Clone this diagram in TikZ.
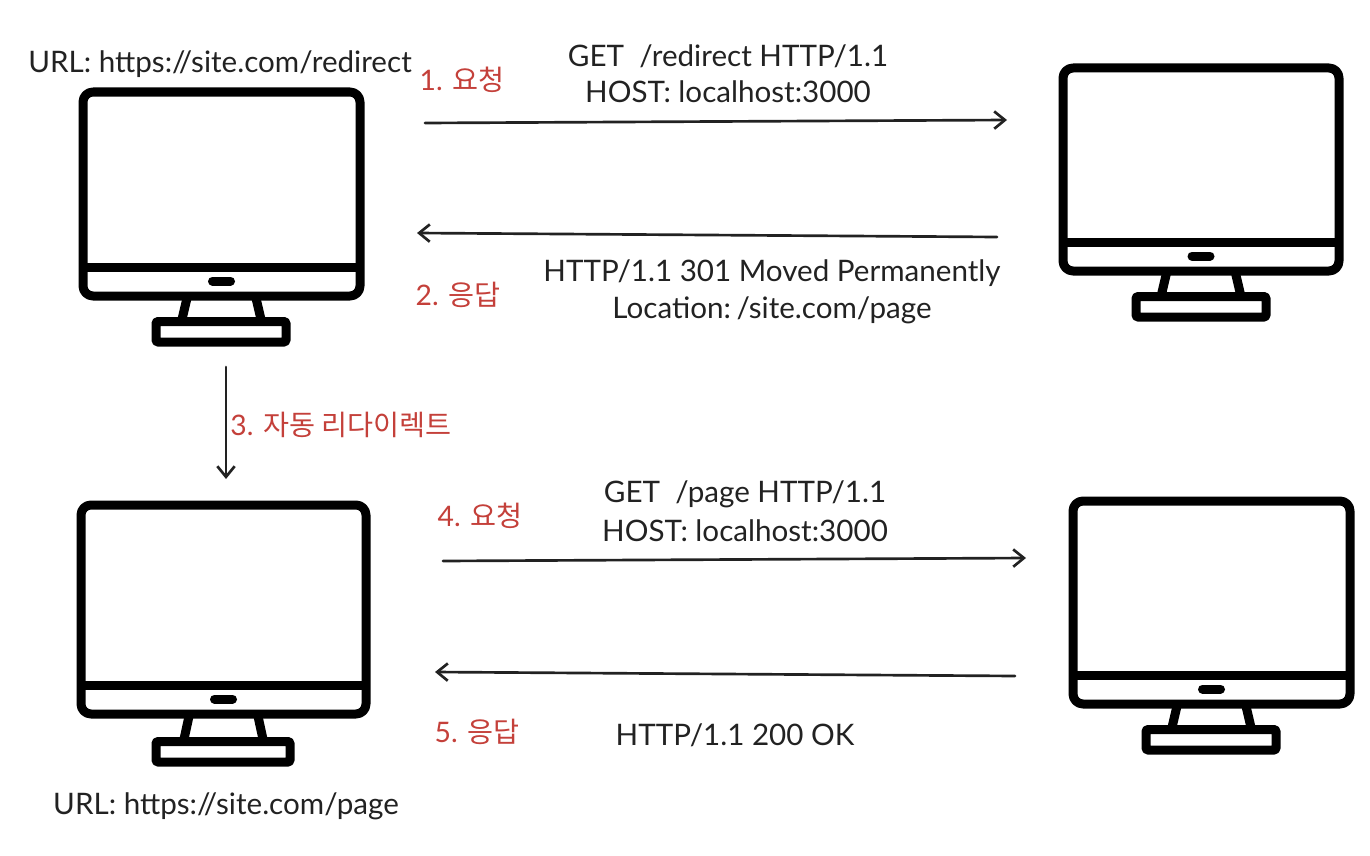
\documentclass[tikz,border=0pt]{standalone}
\usepackage{fontspec}
\setmainfont{Lato}
\newfontfamily\cjk{Noto Sans CJK KR}
\usepackage{xcolor}
\usetikzlibrary{arrows.meta}
\definecolor{stepred}{HTML}{C4403A}
\definecolor{inkgray}{HTML}{222222}
\tikzset{
  msg/.style={font=\fontsize{22.2}{26}\selectfont,text=inkgray,inner sep=0pt},
  steplabel/.style={font=\fontsize{21.2}{25}\selectfont,text=stepred,inner sep=0pt},
  flow/.style={->,draw=inkgray,line width=2pt,line cap=round,>={Straight Barb[length=8pt,width=13pt]}},
  monitorline/.style={draw=black,line width=6.75pt,line join=round},
}

\begin{document}
\begin{tikzpicture}[x=0.75pt,y=-0.75pt]
  \useasboundingbox (0,0) rectangle (1370,856);
  % ---- the four monitors: left/top/right/bottom of the body, then the foot ----
  \foreach \l/\t/\r/\b/\fl/\fr/\fb in {
      83/92/360/296/156/286/342,
      1063/68/1339/271/1136/1266/317,
      81/505/366/714/156/290/762,
      1073/501/1350/704/1146/1276/750}{
    \pgfmathsetmacro\mx{(\l+\r)/2}
    \pgfmathsetmacro\ft{\fb-20.5}
    \draw[monitorline,rounded corners=7.5pt] (\l,\t) rectangle (\r,\b);
    \draw[monitorline] (\l,\b-29) -- (\r,\b-29);
    \draw[black,line width=6.75pt,line cap=round] ({\mx-9},\b-15) -- ({\mx+9},\b-15);
    \draw[monitorline] ({\mx-34},\b) -- ({\mx-40},\ft) ({\mx+34},\b) -- ({\mx+40},\ft);
    \draw[monitorline,rounded corners=1pt] (\fl,\ft) rectangle (\fr,\fb);
  }
  % ---- end points of the arrows ----
  \coordinate (reqA) at (425,123);
  \coordinate (reqB) at (1007,120);
  \coordinate (resA) at (997,237);
  \coordinate (resB) at (417,233);
  \coordinate (autoA) at (226,367);
  \coordinate (autoB) at (226,479);
  \coordinate (reqC) at (443,561);
  \coordinate (reqD) at (1026,558);
  \coordinate (resC) at (1015,676);
  \coordinate (resD) at (435,672);
  \draw[flow] (reqA) -- (reqB);
  \draw[flow] (resA) -- (resB);
  \draw[flow] (autoA) -- (autoB);
  \draw[flow] (reqC) -- (reqD);
  \draw[flow] (resC) -- (resD);
  % ---- black texts ----
  \node[msg] (urlfirst) at (220,64) {URL: https://site.com/redirect};
  \node[msg] (getfirst) at (728,56) {GET\ \ /redirect HTTP/1.1};
  \node[msg] (hostfirst) at (728,92) {HOST: localhost:3000};
  \node[msg] (moved) at (772,273) {HTTP/1.1 301 Moved Permanently};
  \node[msg] (location) at (772,310) {Location:\kern-1.5pt\ /site.com/page};
  \node[msg] (getsecond) at (745,494) {GET\ \ /page HTTP/1.1};
  \node[msg] (hostsecond) at (745,531) {HOST: localhost:3000};
  \node[msg] (okline) at (735,735) {HTTP/1.1 200 OK};
  \node[msg] (urlsecond) at (226,806) {URL: https://site.com/page};
  % ---- red step labels ----
  \node[steplabel] (stepone) at (462,80) {1. {\cjk 요청}};
  \node[steplabel] (steptwo) at (458,295) {2. {\cjk 응답}};
  \node[steplabel] (stepthree) at (341,425) {3. {\cjk 자동 리다이렉트}};
  \node[steplabel] (stepfour) at (480,516) {4. {\cjk 요청}};
  \node[steplabel] (stepfive) at (477,732) {5. {\cjk 응답}};
\end{tikzpicture}
\end{document}
